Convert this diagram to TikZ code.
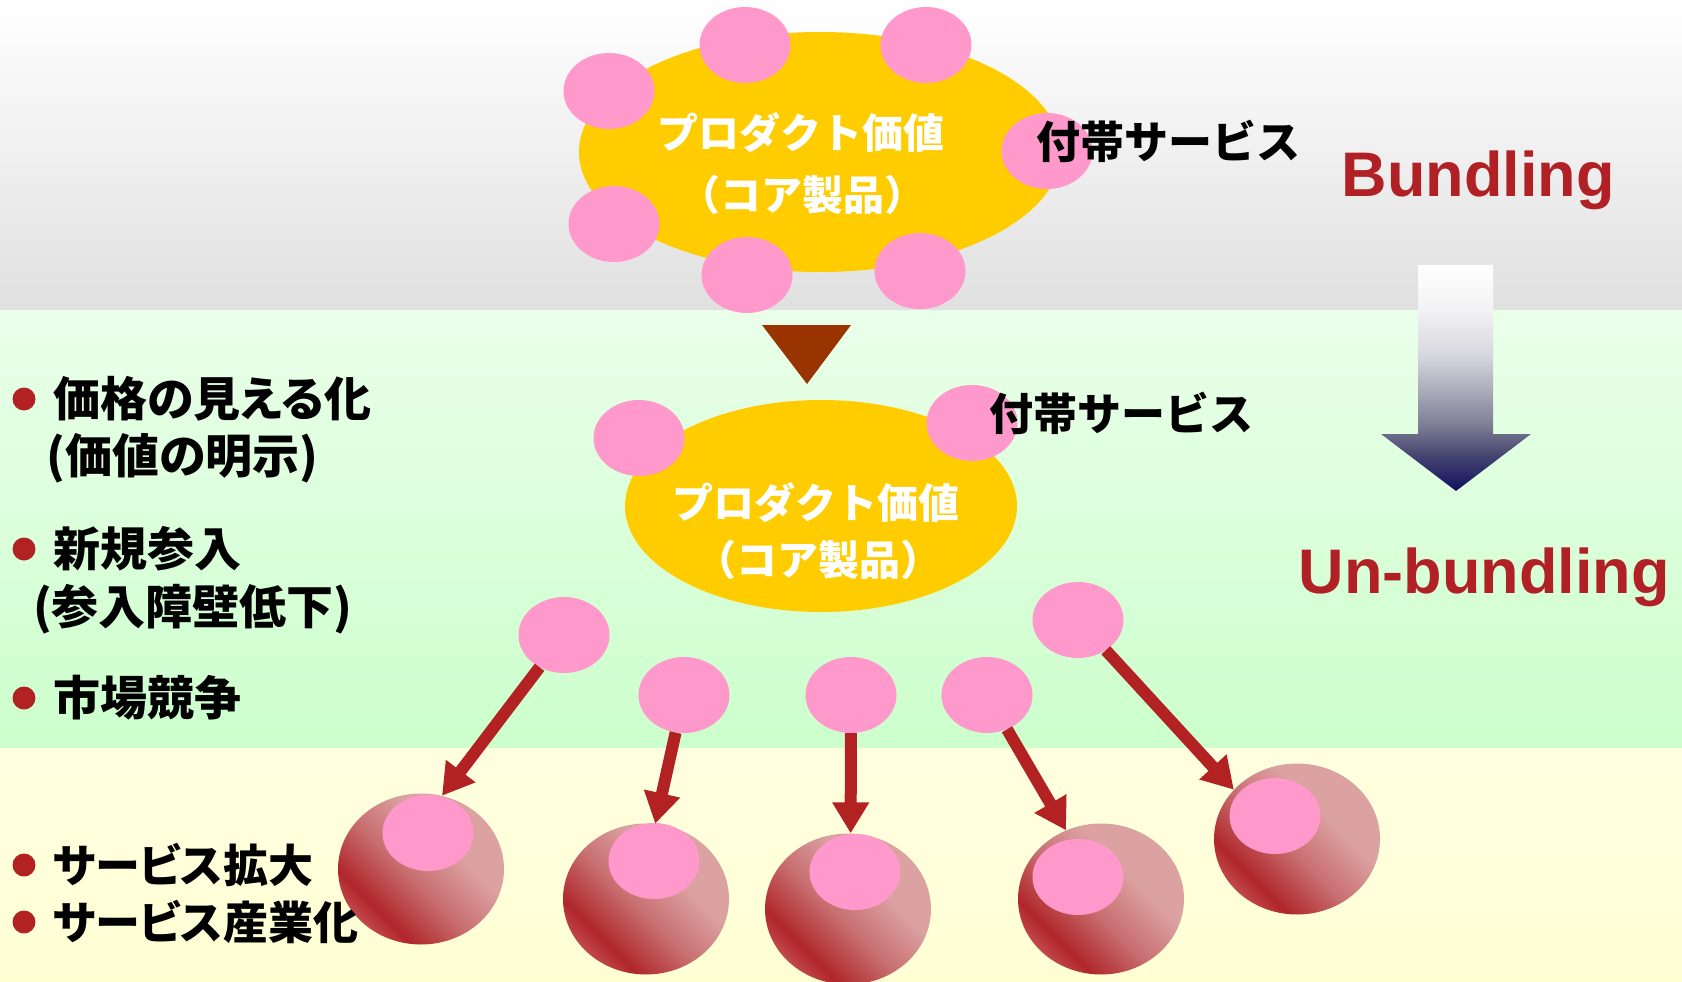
\documentclass[tikz,border=0pt]{standalone}
\usepackage{fontspec}
\usetikzlibrary{arrows.meta,shapes.geometric}
\newfontfamily\jp{Noto Sans CJK JP}
\newfontfamily\jpp{Noto Sans CJK JP}[RawFeature=+palt]
\newfontfamily\lat{Liberation Sans}
\definecolor{pinkc}{RGB}{255,153,204}
\definecolor{corey}{RGB}{255,204,0}
\definecolor{brownc}{RGB}{153,51,0}
\definecolor{redc}{RGB}{178,34,34}
\definecolor{titlered}{RGB}{176,32,36}
\definecolor{sdark}{RGB}{176,38,42}
\definecolor{slight}{RGB}{220,162,162}
\definecolor{smid}{RGB}{196,78,80}
\definecolor{smidtwo}{RGB}{200,110,112}
\definecolor{graybot}{RGB}{224,224,224}
\definecolor{greentop}{RGB}{234,255,234}
\definecolor{greenbot}{RGB}{204,255,204}
\definecolor{yeltop}{RGB}{255,255,224}
\definecolor{yelbot}{RGB}{255,255,212}
\definecolor{navyc}{RGB}{16,16,96}
\definecolor{agone}{RGB}{70,70,112}
\definecolor{agtwo}{RGB}{128,128,152}
\definecolor{agthree}{RGB}{175,175,190}
\definecolor{agfour}{RGB}{215,215,222}
\definecolor{agfive}{RGB}{242,242,244}
\pgfdeclarehorizontalshading{sphereshade}{100bp}{color(0bp)=(smid); color(24bp)=(smid); color(31bp)=(sdark); color(46bp)=(smidtwo); color(62bp)=(slight); color(100bp)=(slight)}
\pgfdeclareverticalshading{arrowshade}{100bp}{color(0bp)=(navyc); color(25bp)=(navyc); color(33bp)=(agone); color(40bp)=(agtwo); color(48bp)=(agthree); color(55bp)=(agfour); color(65bp)=(agfive); color(75bp)=(white); color(100bp)=(white)}
\begin{document}
\begin{tikzpicture}[x=1pt,y=-1pt,
  pinkdot/.style={ellipse, fill=pinkc, minimum width=91pt, minimum height=76pt, inner sep=0pt},
  sphere/.style={ellipse, shade, shading=sphereshade, shading angle=45, minimum width=166pt, minimum height=151pt, inner sep=0pt},
  core/.style={ellipse, fill=corey, inner sep=0pt},
  coretext/.style={text=white, font=\jp\bfseries\fontsize{41}{45}\selectfont, inner sep=0pt},
  jptext/.style={text=black, font=\jpp\bfseries\fontsize{47}{50}\selectfont, inner sep=0pt, anchor=west},
  jptextsm/.style={text=black, font=\jpp\bfseries\fontsize{45}{50}\selectfont, inner sep=0pt, anchor=west},
  svc/.style={text=black, font=\jp\bfseries\fontsize{44}{48}\selectfont, inner sep=0pt},
  bulletdot/.style={circle, fill=redc, minimum size=23pt, inner sep=0pt},
  titletext/.style={text=titlered, font=\lat\bfseries\fontsize{63}{70}\selectfont, inner sep=0pt, anchor=base},
  redarrow/.style={draw=redc, line width=12pt, -{Triangle[length=31pt,width=35pt]}}
]
\useasboundingbox (0,0) rectangle (1682,982);
% background bands
\shade[top color=white, bottom color=graybot] (0,0) rectangle (1682,310);
\shade[top color=greentop, bottom color=greenbot] (0,310) rectangle (1682,748);
\shade[top color=yeltop, bottom color=yelbot] (0,748) rectangle (1682,982);

% top bundled cluster
\node[core, minimum width=482pt, minimum height=240pt] (core1) at (820,152) {};
\node[pinkdot] (a1) at (609,91) {};
\node[pinkdot] (a2) at (745,45) {};
\node[pinkdot] (a3) at (926,45) {};
\node[pinkdot] (a4) at (1047,151) {};
\node[pinkdot] (a5) at (614,224) {};
\node[pinkdot] (a6) at (747,275) {};
\node[pinkdot] (a7) at (920,271) {};
\node[coretext] (c1a) at (801,133) {プロダクト価値};
\node[coretext] (c1b) at (802,195) {（コア製品）};
\node[svc] (svc1) at (1168,141) {付帯サービス};

% titles
\node[titletext] (bund) at (1478,196) {Bundling};
\node[titletext] (unbund) at (1484,593) {Un-bundling};

% big gradient arrow
\shade[shading=arrowshade] (1418,265) -- (1493,265) -- (1493,434) -- (1531,434) -- (1456,491) -- (1381,434) -- (1418,434) -- cycle;

% brown triangle
\fill[brownc] (762,325) -- (851,325) -- (807,384) -- cycle;

% middle cluster
\node[core, minimum width=392pt, minimum height=212pt] (core2) at (821,506) {};
\node[pinkdot] (b1) at (639,438) {};
\node[pinkdot] (b2) at (972,423) {};
\node[coretext] (c2a) at (816,503) {プロダクト価値};
\node[coretext] (c2b) at (818,560) {（コア製品）};
\node[svc] (svc2) at (1121,413) {付帯サービス};

% separated services
\node[pinkdot] (p1) at (564,635) {};
\node[pinkdot] (p2) at (684,695) {};
\node[pinkdot] (p3) at (851,695) {};
\node[pinkdot] (p4) at (987,695) {};
\node[pinkdot] (p5) at (1078,620) {};

% spheres
\node[sphere] (s1) at (421,869) {};
\node[sphere] (s2) at (646,899) {};
\node[sphere] (s3) at (848,909) {};
\node[sphere] (s4) at (1101,899) {};
\node[sphere] (s5) at (1297,839) {};
\node[pinkdot] (t1) at (428,833) {};
\node[pinkdot] (t2) at (654,861) {};
\node[pinkdot] (t3) at (855,872) {};
\node[pinkdot] (t4) at (1078,877) {};
\node[pinkdot] (t5) at (1275,816) {};

% arrows
\draw[redarrow] (p1) -- (s1.74);
\draw[redarrow] (p2) -- (s2.83);
\draw[redarrow] (p3) -- (s3.88);
\draw[redarrow] (p4) -- (s4.117);
\draw[redarrow] (p5) -- (s5.142);

% left bullets
\node[bulletdot] (d1) at (24,399) {};
\node[jptext] (l1) at (53,399) {価格の見える化};
\node[jptext] (l1b) at (46,458) {(価値の明示)};
\node[bulletdot] (d2) at (24,549) {};
\node[jptext] (l2) at (53,549) {新規参入};
\node[jptext] (l2b) at (33,609) {(参入障壁低下)};
\node[bulletdot] (d3) at (24,698) {};
\node[jptext] (l3) at (53,698) {市場競争};
\node[bulletdot] (d4) at (24,865) {};
\node[jptextsm] (l4) at (53,865) {サービス拡大};
\node[bulletdot] (d5) at (24,922) {};
\node[jptextsm] (l5) at (53,922) {サービス産業化};
\end{tikzpicture}
\end{document}
